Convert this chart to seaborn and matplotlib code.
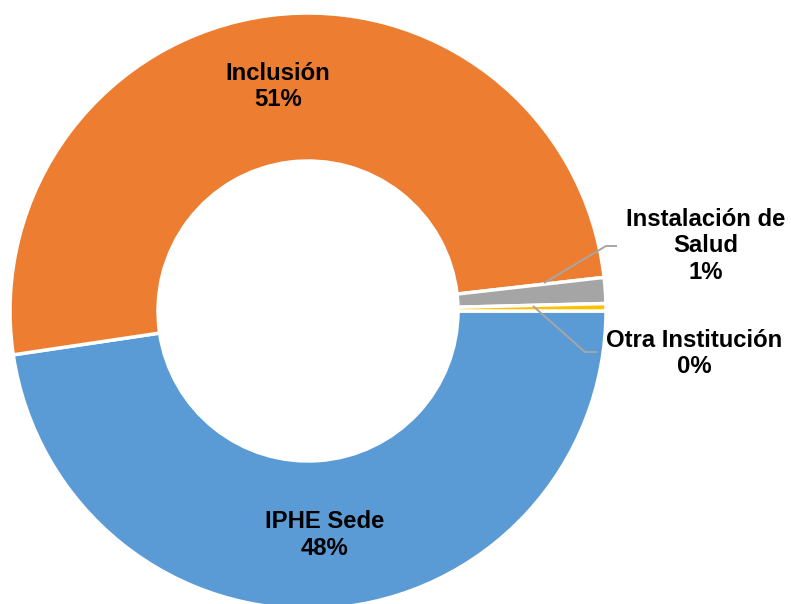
import matplotlib
matplotlib.use("Agg")
import matplotlib.pyplot as plt
import seaborn as sns

# Data
categories = ["IPHE Sede", "Inclusión", "Instalación de\nSalud", "Otra Institución"]
values = [47.65, 50.55, 1.4, 0.4]
colors = ["#5B9BD5", "#ED7D31", "#A5A5A5", "#FFC000"]

sns.set_theme(style="white")
plt.rcParams["font.family"] = ["Liberation Sans", "DejaVu Sans"]

W, H = 791, 604
fig = plt.figure(figsize=(W / 100, H / 100), dpi=100)
ax = fig.add_axes([0, 0, 1, 1])

cx, cy, R, w = 308, 293, 298, 148
ax.pie(values, colors=sns.color_palette(colors), startangle=0, counterclock=False,
       center=(cx, cy), radius=R, frame=True,
       wedgeprops=dict(width=w, edgecolor="white", linewidth=2.5))
ax.set_xlim(0, W)
ax.set_ylim(0, H)
ax.set_aspect("equal")
ax.axis("off")

labels = [f"{c}\n{v:.0f}%" for c, v in zip(categories, values)]
pos = [(324.5, 69), (277.7, 517.5), (705.5, 358), (694, 250.5)]
for lab, (x, y) in zip(labels, pos):
    ax.text(x, y, lab, ha="center", va="center", fontsize=17.2, fontweight="bold",
            color="black", linespacing=1.22)

# leader lines
ax.plot([544, 606, 617], [321, 358, 358], color="#A6A6A6", lw=1.4, solid_capstyle="butt")
ax.plot([533, 585, 597], [298, 252, 252], color="#A6A6A6", lw=1.4, solid_capstyle="butt")

fig.savefig("out.png", dpi=100)
